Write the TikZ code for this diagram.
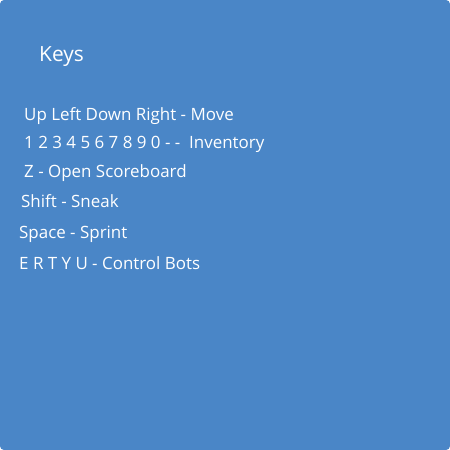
\documentclass[tikz,border=0pt]{standalone}
\usepackage{fontspec}
\setmainfont{Open Sans}
\definecolor{panel}{RGB}{74,134,199}
\begin{document}
\begin{tikzpicture}[x=1bp,y=-1bp,
  keytext/.style={anchor=base west,inner sep=0pt,text=white,font=\fontsize{17}{19}\selectfont},
  titletext/.style={anchor=base west,inner sep=0pt,text=white,font=\fontsize{21}{24}\selectfont}]
\useasboundingbox (0,0) rectangle (450,450);
\fill[white] (0,0) rectangle (450,450);
\fill[panel,rounded corners=4bp] (0,0) rectangle (450,450);
\node[titletext] (title) at (39,62) {Keys};
\node[keytext] (l1) at (24,121) {Up Left Down Right - Move};
\node[keytext] (l2) at (24,149) {1 2 3 4 5 6 7 8 9 0 - -\ \ Inventory};
\node[keytext] (l3) at (24,178) {Z - Open Scoreboard};
\node[keytext] (l4) at (21,208) {Shift - Sneak};
\node[keytext] (l5) at (19,238) {Space - Sprint};
\node[keytext] (l6) at (19,269) {E R T Y U - Control Bots};
\end{tikzpicture}
\end{document}
